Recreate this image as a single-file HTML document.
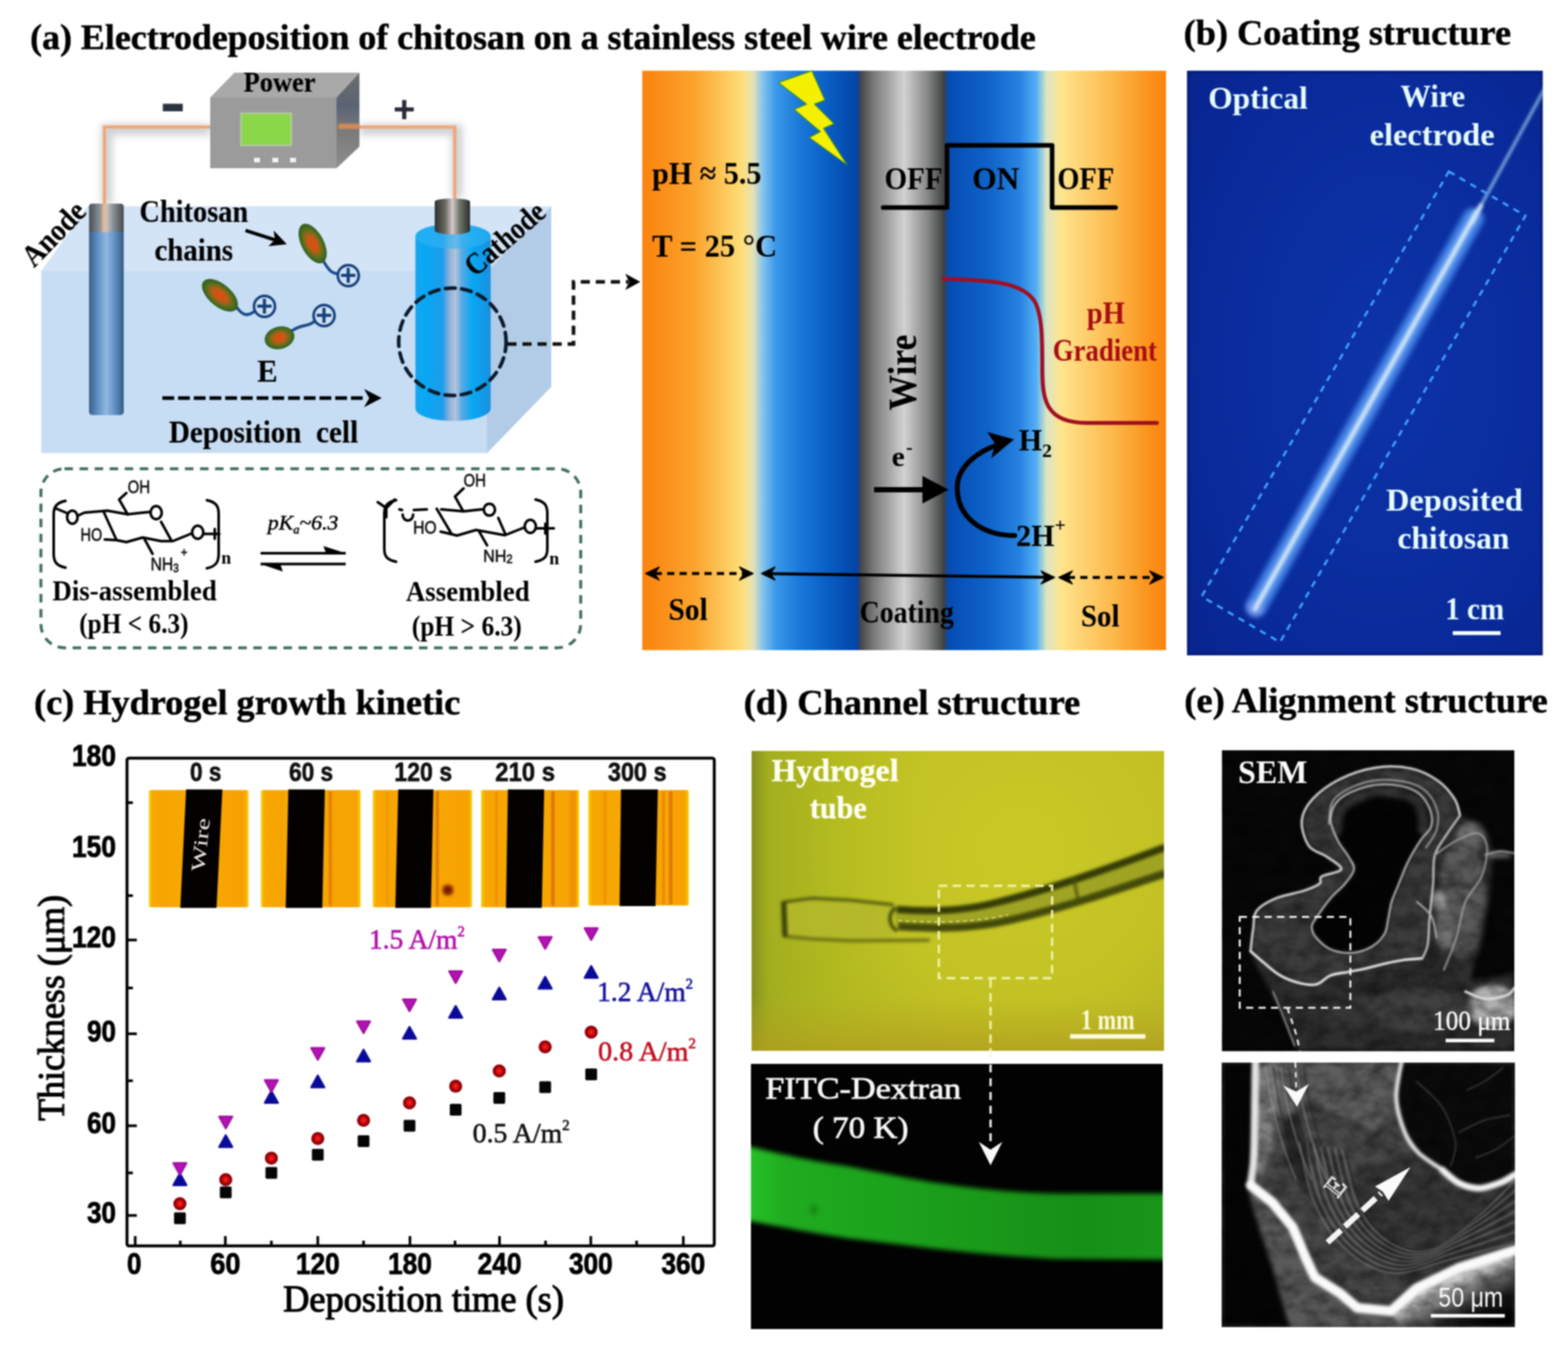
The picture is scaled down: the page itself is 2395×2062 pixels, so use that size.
<!DOCTYPE html>
<html lang="en"><head><meta charset="utf-8"><title>Electrodeposition of chitosan on a stainless steel wire electrode</title>
<style>
html,body{margin:0;padding:0;background:#fff;}
body{width:2395px;height:2062px;}
svg{display:block;width:2395px;height:2062px;}
text{font-family:"Liberation Serif",serif;font-weight:bold;}
.sans{font-family:"Liberation Sans",sans-serif;font-weight:bold;}
</style></head><body>
<svg width="2395" height="2062" viewBox="0 0 2395 2062">
<defs><filter id="soft" color-interpolation-filters="sRGB" filterUnits="userSpaceOnUse" x="0" y="0" width="2395" height="2062"><feGaussianBlur stdDeviation="0.8"/></filter></defs>
<rect x="0" y="0" width="2395" height="2062" fill="#fff"/>
<g filter="url(#soft)">
<!-- 00_defs.svg -->
<defs>
  <filter id="b1" color-interpolation-filters="sRGB" x="-5%" y="-5%" width="110%" height="110%"><feGaussianBlur stdDeviation="1"/></filter>
  <filter id="b2" color-interpolation-filters="sRGB" x="-10%" y="-10%" width="120%" height="120%"><feGaussianBlur stdDeviation="2"/></filter>
  <filter id="b3" color-interpolation-filters="sRGB" x="-10%" y="-10%" width="120%" height="120%"><feGaussianBlur stdDeviation="3.5"/></filter>
  <filter id="b6" color-interpolation-filters="sRGB" x="-20%" y="-20%" width="140%" height="140%"><feGaussianBlur stdDeviation="6"/></filter>
  <filter id="b10" color-interpolation-filters="sRGB" x="-30%" y="-30%" width="160%" height="160%"><feGaussianBlur stdDeviation="10"/></filter>
  <filter id="b20" color-interpolation-filters="sRGB" x="-40%" y="-40%" width="180%" height="180%"><feGaussianBlur stdDeviation="20"/></filter>
  <marker id="arrK" viewBox="0 0 10 10" refX="8" refY="5" markerWidth="5" markerHeight="5" orient="auto-start-reverse"><path d="M0,0 L10,5 L0,10 L3,5 Z" fill="#000"/></marker>
</defs>

<!-- 10_titles.svg -->
<g font-size="55" fill="#000" stroke="#000" stroke-width="0.7">
  <text x="46" y="75" textLength="1536" lengthAdjust="spacingAndGlyphs">(a) Electrodeposition of chitosan on a stainless steel wire electrode</text>
  <text x="1808" y="68" textLength="500" lengthAdjust="spacingAndGlyphs">(b) Coating structure</text>
  <text x="52" y="1091" textLength="651" lengthAdjust="spacingAndGlyphs">(c) Hydrogel growth kinetic</text>
  <text x="1136" y="1091" textLength="514" lengthAdjust="spacingAndGlyphs">(d) Channel structure</text>
  <text x="1809" y="1088" textLength="555" lengthAdjust="spacingAndGlyphs">(e) Alignment structure</text>
</g>

<!-- 20_panel_a_left.svg -->
<defs>
  <linearGradient id="gAnode" x1="0" y1="0" x2="1" y2="0">
    <stop offset="0" stop-color="#3a5f88"/><stop offset="0.25" stop-color="#5f8fc2"/><stop offset="0.5" stop-color="#8fb8e2"/><stop offset="0.75" stop-color="#5f8fc2"/><stop offset="1" stop-color="#365a82"/>
  </linearGradient>
  <linearGradient id="gAnodeTop" x1="0" y1="0" x2="1" y2="0">
    <stop offset="0" stop-color="#4a4f56"/><stop offset="0.3" stop-color="#8a8f96"/><stop offset="0.5" stop-color="#c8c4c0"/><stop offset="0.7" stop-color="#8a8f96"/><stop offset="1" stop-color="#454a52"/>
  </linearGradient>
  <linearGradient id="gCath" x1="0" y1="0" x2="1" y2="0">
    <stop offset="0" stop-color="#16a4ee"/><stop offset="0.12" stop-color="#08a8f4"/><stop offset="0.36" stop-color="#1c9cec"/><stop offset="0.45" stop-color="#8cb0d8"/><stop offset="0.53" stop-color="#b4c4dc"/><stop offset="0.62" stop-color="#58a8e4"/><stop offset="0.75" stop-color="#08a8f4"/><stop offset="1" stop-color="#1890e0"/>
  </linearGradient>
  <linearGradient id="gStub" x1="0" y1="0" x2="1" y2="0">
    <stop offset="0" stop-color="#2e3030"/><stop offset="0.3" stop-color="#6a6a60"/><stop offset="0.5" stop-color="#d8c8d0"/><stop offset="0.7" stop-color="#707868"/><stop offset="1" stop-color="#2a2c2c"/>
  </linearGradient>
  <linearGradient id="gBoxR" x1="0" y1="0" x2="0" y2="1">
    <stop offset="0" stop-color="#6c6c6c"/><stop offset="0.35" stop-color="#5a6474"/><stop offset="0.6" stop-color="#7a7a7a"/><stop offset="1" stop-color="#8e8e8e"/>
  </linearGradient>
  <radialGradient id="gChain" cx="0.5" cy="0.5" r="0.5">
    <stop offset="0" stop-color="#e04c0c"/><stop offset="0.4" stop-color="#c25a16"/><stop offset="0.72" stop-color="#5a701c"/><stop offset="1" stop-color="#2c5e24"/>
  </radialGradient>
</defs>
<g id="pa1">
  <!-- wire glow + wire -->
  <g filter="url(#b6)" opacity="0.45">
    <polyline points="321,198 163,198 163,312" fill="none" stroke="#8f949c" stroke-width="16"/>
    <polyline points="549,198 698,198 698,303" fill="none" stroke="#8f949c" stroke-width="16"/>
  </g>
  <polyline points="321,194 159.5,194 159.5,330" fill="none" stroke="#f2a676" stroke-width="5"/>
  <polyline points="549,194 694.5,194 694.5,310" fill="none" stroke="#f2a676" stroke-width="5"/>
  <!-- deposition cell -->
  <polygon points="63,414 134,315 842,315 744,414" fill="#d3e4f6"/>
  <polygon points="744,414 842,315 842,591 744,692" fill="#b2cce8"/>
  <rect x="63" y="414" width="681" height="278" fill="#c6ddf3"/>
  <!-- anode -->
  <rect x="136" y="311" width="53" height="323" rx="5" fill="url(#gAnode)"/>
  <path d="M136,354 V316 a5,5 0 0 1 5,-5 H184 a5,5 0 0 1 5,5 V354 Z" fill="url(#gAnodeTop)"/>
  <rect x="156.5" y="311" width="6" height="44" fill="#f0b890" opacity="0.8"/>
  <!-- cathode -->
  <path d="M634.5,361 a57.5,19 0 0 1 115,0 V624 a57.5,19 0 0 1 -115,0 Z" fill="url(#gCath)"/>
  <ellipse cx="692" cy="361" rx="57.5" ry="19" fill="#30b4f4" opacity="0.6"/>
  <path d="M664,308 a27,5 0 0 1 54,0 V352 a27,6 0 0 1 -54,0 Z" fill="url(#gStub)"/>
  <!-- dashed circle and connector -->
  <circle cx="691" cy="522" r="82" fill="none" stroke="#0a1a2a" stroke-width="5.5" stroke-dasharray="15 10" stroke-linecap="round"/>
  <polyline points="775,525.5 876,525.5 876,430.5 960,430.5" fill="none" stroke="#111" stroke-width="5.5" stroke-dasharray="14 9"/>
  <polygon points="978,430.5 955,418 961,430.5 955,443" fill="#000"/>
  <!-- E arrow -->
  <line x1="248" y1="608" x2="560" y2="608" stroke="#000" stroke-width="5.5" stroke-dasharray="18 6"/>
  <polygon points="583,608 556,594 564,608 556,622" fill="#000"/>
  <!-- chitosan chains -->
  <g stroke="#1a4a8a" stroke-width="4.5" fill="none" stroke-linecap="round">
    <path d="M493,397 C503,415 508,418 517,418"/>
    <path d="M362,470 C372,484 380,482 388,476"/>
    <path d="M446,505 C462,494 470,500 480,491"/>
  </g>
  <ellipse cx="477.5" cy="372" rx="33" ry="17" transform="rotate(62 477.5 372)" fill="url(#gChain)"/>
  <ellipse cx="336" cy="451" rx="33" ry="17" transform="rotate(40 336 451)" fill="url(#gChain)"/>
  <ellipse cx="427" cy="516" rx="23" ry="17" transform="rotate(-15 427 516)" fill="url(#gChain)"/>
  <g stroke="#173f7a" stroke-width="4" fill="#cfe2f6">
    <circle cx="532" cy="421" r="16"/>
    <circle cx="404" cy="468" r="16"/>
    <circle cx="495" cy="482" r="16"/>
  </g>
  <g class="sans" font-size="44" fill="#173f7a">
    <text class="sans" x="519.1" y="436.2">+</text>
    <text class="sans" x="391.1" y="483.2">+</text>
    <text class="sans" x="482.1" y="497.2">+</text>
  </g>
  <!-- chitosan arrow -->
  <line x1="375" y1="352" x2="428" y2="369" stroke="#000" stroke-width="5"/>
  <polygon points="438,373 410,376 420,366 418,352" fill="#000"/>
  <!-- power box -->
  <polygon points="321,149 358,111 549,111 514,149" fill="#a9a9a9"/>
  <polygon points="514,149 549,111 549,224 514,257" fill="url(#gBoxR)"/>
  <rect x="321" y="149" width="193" height="108" fill="#9b9b9b"/>
  <rect x="368" y="173" width="77" height="49" fill="#8ad84a" stroke="#b4c8a0" stroke-width="2.5"/>
  <g fill="#f4f4f4"><rect x="388" y="241" width="9" height="7"/><rect x="416" y="241" width="9" height="7"/><rect x="443" y="241" width="9" height="7"/></g>
  <rect x="517" y="189" width="32" height="8" fill="#e89050" opacity="0.8" filter="url(#b1)"/>
  <text class="sans" x="244" y="189" font-size="96" fill="#2a3440" textLength="40" lengthAdjust="spacingAndGlyphs">-</text>
  <text class="sans" x="600.5" y="187" font-size="58" fill="#2a2a3a">+</text>
  <!-- labels -->
  <g fill="#000" stroke="#000" stroke-width="0.2">
    <text x="372" y="140" font-size="44" textLength="110" lengthAdjust="spacingAndGlyphs">Power</text>
    <text x="213" y="339" font-size="49" textLength="166" lengthAdjust="spacingAndGlyphs">Chitosan</text>
    <text x="236" y="398" font-size="49" textLength="120" lengthAdjust="spacingAndGlyphs">chains</text>
    <text x="393" y="583" font-size="49" textLength="31" lengthAdjust="spacingAndGlyphs">E</text>
    <text x="258" y="676" font-size="49" textLength="289" lengthAdjust="spacingAndGlyphs" xml:space="preserve">Deposition  cell</text>
    <text transform="translate(52,410) rotate(-46)" font-size="47" textLength="118" lengthAdjust="spacingAndGlyphs">Anode</text>
    <text transform="translate(726,424) rotate(-41)" font-size="47" textLength="146" lengthAdjust="spacingAndGlyphs">Cathode</text>
  </g>
</g>

<!-- 25_chem.svg -->
<g id="chem">
  <rect x="62.5" y="716" width="824.5" height="273.5" rx="36" ry="36" fill="none" stroke="#3f6f58" stroke-width="4.5" stroke-dasharray="13 10"/>
  <g fill="none" stroke="#000" stroke-width="4" stroke-linecap="round" stroke-linejoin="round">
    <!-- left structure -->
    <path d="M100,765 C86,768 82,774 82,786 V846 C82,858 86,864 100,867"/>
    <path d="M316,764 C330,767 334,773 334,785 V846 C334,858 330,865 316,868"/>
    <path d="M84,776 L103,784 M118,788 L129,783 L164,780 L195,785.5 L218,783 L229,782"/>
    <path d="M195,785.5 L182,763 L193,753"/>
    <path d="M158,781 L178,825 L193,828 L218,821 L246,826.5 L264,826.5 L285,818 L292,815"/>
    <path d="M246,797 L262,826"/>
    <path d="M160,824 L178,825"/>
    <path d="M220,822 L233,846"/>
    <path d="M312,815.5 L335,815.5 M328,808 V823"/>
    <ellipse cx="110.5" cy="790" rx="8" ry="10"/>
    <ellipse cx="238.5" cy="783" rx="8.5" ry="10"/>
    <ellipse cx="302" cy="813" rx="8.5" ry="10"/>
    <!-- right structure -->
    <path d="M605,764 C591,767 587,773 587,785 V838 C587,850 591,855 605,858"/>
    <path d="M818,763 C832,766 836,772 836,784 V838 C836,850 832,855 818,858"/>
    <path d="M577,767 L590,776 L603,763 M590,776 V790"/>
    <path d="M610,778 L614,779 M632,779 L652,778 M674,778 L708,781 L736,778"/>
    <path d="M707,780 L695,758.5 L708,746"/>
    <path d="M667,777 L690,816 L698,818 L727,809.5 L771,817.5 L790,810 L800,806"/>
    <path d="M761,791 L772,816"/>
    <path d="M673,812 L690,816"/>
    <path d="M732,812 L744,833"/>
    <path d="M820,807 L846,807 M833,800 V815"/>
    <path d="M615,786 a8,9 0 0 0 16,0" />
    <ellipse cx="747.5" cy="778.5" rx="8.5" ry="9"/>
    <ellipse cx="810" cy="804" rx="8.5" ry="10"/>
  </g>
  <g class="sans" fill="#111" font-size="28" style="font-weight:normal" stroke="#111" stroke-width="0.8">
    <text class="sans" x="195" y="753" textLength="34" lengthAdjust="spacingAndGlyphs" style="font-weight:normal">OH</text>
    <text class="sans" x="123" y="825.5" textLength="33" lengthAdjust="spacingAndGlyphs" style="font-weight:normal">HO</text>
    <text class="sans" x="230" y="871" textLength="43" lengthAdjust="spacingAndGlyphs" style="font-weight:normal">NH<tspan font-size="18" dy="3">3</tspan></text>
    <text class="sans" x="276" y="850" font-size="18" style="font-weight:normal">+</text>
    <text class="sans" x="708" y="743" textLength="34" lengthAdjust="spacingAndGlyphs" style="font-weight:normal">OH</text>
    <text class="sans" x="631" y="815" textLength="36" lengthAdjust="spacingAndGlyphs" style="font-weight:normal">HO</text>
    <text class="sans" x="738" y="858" font-size="26" textLength="45" lengthAdjust="spacingAndGlyphs" style="font-weight:normal">NH<tspan font-size="18" dy="2">2</tspan></text>
  </g>
  <g fill="#000">
    <text x="338" y="861" font-size="27">n</text>
    <text x="839" y="862" font-size="27">n</text>
    <text x="80" y="916.5" font-size="44" textLength="251" lengthAdjust="spacingAndGlyphs">Dis-assembled</text>
    <text x="121" y="966.5" font-size="44" textLength="167" lengthAdjust="spacingAndGlyphs">(pH &lt; 6.3)</text>
    <text x="620" y="917.5" font-size="44" textLength="189" lengthAdjust="spacingAndGlyphs">Assembled</text>
    <text x="629" y="971" font-size="44" textLength="168" lengthAdjust="spacingAndGlyphs">(pH &gt; 6.3)</text>
    <text x="409" y="809" font-size="32" font-style="italic" style="font-weight:normal" stroke="#000" stroke-width="0.6" textLength="108" lengthAdjust="spacingAndGlyphs">pK<tspan font-size="18" dy="6">a</tspan><tspan dy="-6">~6.3</tspan></text>
  </g>
  <!-- equilibrium arrows -->
  <g stroke="#000" stroke-width="4" fill="#000">
    <line x1="398" y1="845" x2="528" y2="845"/>
    <polygon points="528,845 494,834 498,845" stroke="none"/>
    <line x1="398" y1="861.5" x2="528" y2="861.5"/>
    <polygon points="398,861.5 432,873 428,861.5" stroke="none"/>
  </g>
</g>

<!-- 30_panel_a_right.svg -->
<defs>
  <linearGradient id="gA" gradientUnits="userSpaceOnUse" x1="981" y1="0" x2="1781" y2="0">
    <stop offset="0" stop-color="#fb8410"/>
    <stop offset="0.03" stop-color="#fb8c16"/>
    <stop offset="0.10" stop-color="#fba42e"/>
    <stop offset="0.19" stop-color="#ffde78"/>
    <stop offset="0.212" stop-color="#e4e2b8"/>
    <stop offset="0.232" stop-color="#7cc0f0"/>
    <stop offset="0.255" stop-color="#3c98e8"/>
    <stop offset="0.30" stop-color="#1a78da"/>
    <stop offset="0.37" stop-color="#0656bc"/>
    <stop offset="0.412" stop-color="#0444a6"/>
    <stop offset="0.416" stop-color="#444446"/>
    <stop offset="0.44" stop-color="#767676"/>
    <stop offset="0.50" stop-color="#d2d2d2"/>
    <stop offset="0.545" stop-color="#868686"/>
    <stop offset="0.576" stop-color="#3e4042"/>
    <stop offset="0.584" stop-color="#064cb2"/>
    <stop offset="0.66" stop-color="#0e62c8"/>
    <stop offset="0.72" stop-color="#2682e0"/>
    <stop offset="0.752" stop-color="#52aef4"/>
    <stop offset="0.772" stop-color="#dce6c4"/>
    <stop offset="0.80" stop-color="#ffe48c"/>
    <stop offset="0.90" stop-color="#fdb84a"/>
    <stop offset="0.975" stop-color="#fb8e16"/>
    <stop offset="1" stop-color="#fb8410"/>
  </linearGradient>
</defs>
<g id="pa2">
  <rect x="981" y="108" width="800" height="885" fill="url(#gA)"/>
  <!-- lightning bolt -->
  <polygon points="1240,108 1260,153 1244,159 1274,189 1258,196 1294,252 1236,210 1253,201 1213,167 1232,159 1189,126" fill="#f4f000" stroke="#3a8a30" stroke-width="1.5" stroke-linejoin="round"/>
  <!-- pulse -->
  <polyline points="1349,317 1446.5,317 1446.5,222 1607,222 1607,317 1704,317" fill="none" stroke="#000" stroke-width="7" stroke-linecap="round" stroke-linejoin="round"/>
  <g font-size="49" fill="#000">
    <text x="1351" y="289" textLength="89" lengthAdjust="spacingAndGlyphs">OFF</text>
    <text x="1485" y="289" textLength="72" lengthAdjust="spacingAndGlyphs">ON</text>
    <text x="1615" y="289" textLength="87" lengthAdjust="spacingAndGlyphs">OFF</text>
    <text x="996" y="281" textLength="167" lengthAdjust="spacingAndGlyphs">pH ≈ 5.5</text>
    <text x="996" y="392" textLength="191" lengthAdjust="spacingAndGlyphs">T = 25 °C</text>
    <text x="1021" y="947" textLength="60" lengthAdjust="spacingAndGlyphs">Sol</text>
    <text x="1313" y="951" textLength="144" lengthAdjust="spacingAndGlyphs">Coating</text>
    <text x="1651" y="957" textLength="59" lengthAdjust="spacingAndGlyphs">Sol</text>
    <text x="1556" y="688" font-size="46">H<tspan font-size="30" dy="10">2</tspan></text>
    <text x="1552" y="834" font-size="46">2H<tspan font-size="30" dy="-22">+</tspan></text>
    <text transform="translate(1399,627) rotate(-90)" font-size="62" textLength="116" lengthAdjust="spacingAndGlyphs">Wire</text>
    <text x="1362" y="711.5" font-size="45">e<tspan font-size="30" dx="2" dy="-19">-</tspan></text>
  </g>
  <!-- pH gradient curve -->
  <path d="M1441,426 C1500,428 1560,428 1580,460 C1592,480 1592,520 1592,560 C1592,610 1596,646 1660,646 L1767,646" fill="none" stroke="#a00f22" stroke-width="6" stroke-linecap="round"/>
  <g font-size="48" fill="#a80c14">
    <text x="1660" y="494" textLength="58" lengthAdjust="spacingAndGlyphs">pH</text>
    <text x="1608" y="551" textLength="159" lengthAdjust="spacingAndGlyphs">Gradient</text>
  </g>
  <!-- e- arrow -->
  <line x1="1335" y1="748" x2="1415" y2="748" stroke="#000" stroke-width="8"/>
  <polygon points="1409,727 1449,748 1409,769" fill="#000"/>
  <!-- curved arrow -->
  <path d="M1550,818 C1500,818 1462,790 1462,745 C1462,715 1490,690 1528,678" fill="none" stroke="#000" stroke-width="7.5" stroke-linecap="round"/>
  <polygon points="1549,671 1508,660 1520,678 1514,700" fill="#000"/>
  <!-- double arrows -->
  <g stroke="#000" stroke-width="4.5" fill="none">
    <line x1="1000" y1="876" x2="1137" y2="876" stroke-dasharray="11 8"/>
    <line x1="1177" y1="876.2" x2="1597" y2="881.8"/>
    <line x1="1631" y1="882" x2="1763" y2="882" stroke-dasharray="11 8"/>
  </g>
  <g fill="#000" stroke="#000" stroke-width="1.5" stroke-linejoin="round">
    <polygon points="986.0,876.0 1007.0,866.0 1000.0,876.0 1007.0,886.0"/>
    <polygon points="1150.5,876.0 1129.5,866.0 1136.5,876.0 1129.5,886.0"/>
    <polygon points="1163.0,876.0 1184.0,866.0 1177.0,876.0 1184.0,886.0"/>
    <polygon points="1611.0,882.0 1590.0,872.0 1597.0,882.0 1590.0,892.0"/>
    <polygon points="1617.0,882.0 1638.0,872.0 1631.0,882.0 1638.0,892.0"/>
    <polygon points="1777.0,882.0 1756.0,872.0 1763.0,882.0 1756.0,892.0"/>
  </g>
</g>

<!-- 40_panel_b.svg -->
<defs>
  <radialGradient id="gB" cx="0.55" cy="0.5" r="0.8">
    <stop offset="0" stop-color="#0d34a8"/><stop offset="0.6" stop-color="#0a2b9c"/><stop offset="1" stop-color="#08238c"/>
  </radialGradient>
  <clipPath id="cB"><rect x="1813" y="108" width="543.5" height="893"/></clipPath>
</defs>
<g id="pb" clip-path="url(#cB)">
  <rect x="1813" y="108" width="543.5" height="893" fill="url(#gB)"/>
  <rect x="1815" y="110" width="539.5" height="889" fill="none" stroke="#061c78" stroke-width="5" opacity="0.7"/>
  <!-- coating glow -->
  <g filter="url(#b3)">
    <line x1="2250" y1="334" x2="1919" y2="926" stroke="#3f7fe6" stroke-width="34" stroke-linecap="round" opacity="0.85"/>
    <line x1="2252" y1="330" x2="1918" y2="928" stroke="#6aa4f4" stroke-width="18" stroke-linecap="round" opacity="0.9"/>
    <circle cx="1917" cy="929" r="13" fill="#7a9ef0" opacity="0.8"/>
  </g>
  <g filter="url(#b2)">
    <line x1="2372" y1="112" x2="2262" y2="314" stroke="#8ebfe6" stroke-width="4" stroke-linecap="round"/>
    <line x1="2256" y1="323" x2="1917" y2="930" stroke="#d4e8f6" stroke-width="7" stroke-linecap="round" opacity="0.95"/>
    <line x1="2262" y1="314" x2="2248" y2="340" stroke="#cfe6f4" stroke-width="7" stroke-linecap="round"/>
  </g>
  <polygon points="2213,262 2330,329.5 1955,981 1835.5,911" fill="none" stroke="#3fa2ff" stroke-width="3.5" stroke-dasharray="10 9"/>
  <g fill="#e6fcfc" font-size="48">
    <text x="1845.5" y="166" textLength="152" lengthAdjust="spacingAndGlyphs">Optical</text>
    <text x="2139" y="163" textLength="99" lengthAdjust="spacingAndGlyphs">Wire</text>
    <text x="2092" y="221.5" textLength="191" lengthAdjust="spacingAndGlyphs">electrode</text>
    <text x="2117" y="779.5" textLength="209" lengthAdjust="spacingAndGlyphs">Deposited</text>
    <text x="2134.5" y="838" textLength="171" lengthAdjust="spacingAndGlyphs">chitosan</text>
    <text x="2207.5" y="946" textLength="90" lengthAdjust="spacingAndGlyphs">1 cm</text>
  </g>
  <rect x="2219" y="964" width="73" height="6" fill="#f4ffff"/>
</g>

<!-- 50_panel_c.svg -->
<defs>
  <linearGradient id="gOr" x1="0" y1="0" x2="1" y2="0">
    <stop offset="0" stop-color="#f8d200"/><stop offset="0.04" stop-color="#f7a602"/><stop offset="0.5" stop-color="#f8a800"/><stop offset="0.96" stop-color="#f6a204"/><stop offset="1" stop-color="#f8d200"/>
  </linearGradient>
  <radialGradient id="gRed" cx="0.5" cy="0.5" r="0.5"><stop offset="0" stop-color="#ff2a1a"/><stop offset="0.35" stop-color="#e01010"/><stop offset="0.7" stop-color="#9a0008"/><stop offset="1" stop-color="#7a0008"/></radialGradient>
</defs>
<g id="pc">
<rect x="194" y="1158" width="897" height="745" fill="none" stroke="#000" stroke-width="4.5" rx="3"/>
<path d="M194,1226.0 h9 M194,1368.0 h9 M194,1435.7 h15 M194,1509.0 h9 M194,1579.0 h15 M194,1650.7 h9 M194,1719.5 h15 M194,1791.4 h9 M194,1856.6 h15 M206.5,1903 v-15 M275.4,1903 v-8 M344.2,1903 v-15 M414.5,1903 v-8 M485.4,1903 v-15 M555.3,1903 v-8 M626.2,1903 v-15 M695.0,1903 v-8 M763.0,1903 v-15 M833.3,1903 v-8 M902.4,1903 v-15 M972.4,1903 v-8 M1043.7,1903 v-15 " stroke="#000" stroke-width="4" fill="none"/>
<g class="sans" font-size="47" fill="#000" stroke="#000" stroke-width="1.2" text-anchor="middle">
<text class="sans" x="177.0" y="1169.5" text-anchor="end" textLength="67" lengthAdjust="spacingAndGlyphs">180</text>
<text class="sans" x="177.0" y="1308.5" text-anchor="end" textLength="67" lengthAdjust="spacingAndGlyphs">150</text>
<text class="sans" x="177.0" y="1447.2" text-anchor="end" textLength="67" lengthAdjust="spacingAndGlyphs">120</text>
<text class="sans" x="177.0" y="1590.5" text-anchor="end" textLength="44" lengthAdjust="spacingAndGlyphs">90</text>
<text class="sans" x="177.0" y="1731.0" text-anchor="end" textLength="44" lengthAdjust="spacingAndGlyphs">60</text>
<text class="sans" x="177.0" y="1868.1" text-anchor="end" textLength="44" lengthAdjust="spacingAndGlyphs">30</text>
<text class="sans" x="205.0" y="1946" textLength="22" lengthAdjust="spacingAndGlyphs">0</text>
<text class="sans" x="344.2" y="1946" textLength="46" lengthAdjust="spacingAndGlyphs">60</text>
<text class="sans" x="485.4" y="1946" textLength="67" lengthAdjust="spacingAndGlyphs">120</text>
<text class="sans" x="626.2" y="1946" textLength="67" lengthAdjust="spacingAndGlyphs">180</text>
<text class="sans" x="763.0" y="1946" textLength="67" lengthAdjust="spacingAndGlyphs">240</text>
<text class="sans" x="902.4" y="1946" textLength="67" lengthAdjust="spacingAndGlyphs">300</text>
<text class="sans" x="1043.7" y="1946" textLength="67" lengthAdjust="spacingAndGlyphs">360</text>
</g>
<text x="432.5" y="2003" font-size="56" style="font-weight:normal" stroke="#000" stroke-width="1.6" textLength="429" lengthAdjust="spacingAndGlyphs">Deposition time (s)</text>
<text transform="translate(97.5,1712) rotate(-90)" font-size="56" style="font-weight:normal" stroke="#000" stroke-width="1.6" textLength="345" lengthAdjust="spacingAndGlyphs">Thickness (μm)</text>
<rect x="227.5" y="1206.8" width="152.0" height="178.9" fill="url(#gOr)" rx="2"/>
<polygon points="284.3,1205.8 339.7,1205.8 330.7,1386.7 275.4,1386.7" fill="#030100"/>
<rect x="398.6" y="1206.8" width="152.1" height="178.9" fill="url(#gOr)" rx="2"/>
<rect x="430.0" y="1208.8" width="1.0" height="174.9" fill="#e88a08" opacity="0.85" filter="url(#b1)"/>
<rect x="502.0" y="1208.8" width="5.0" height="174.9" fill="#e07808" opacity="0.85" filter="url(#b1)"/>
<polygon points="440.5,1205.8 496.2,1205.8 492.3,1386.7 436.4,1386.7" fill="#030100"/>
<rect x="569.4" y="1206.8" width="151.6" height="178.9" fill="url(#gOr)" rx="2"/>
<rect x="590.0" y="1208.8" width="3.0" height="174.9" fill="#e89010" opacity="0.85" filter="url(#b1)"/>
<rect x="666.0" y="1208.8" width="4.0" height="174.9" fill="#d86a08" opacity="0.85" filter="url(#b1)"/>
<polygon points="608.3,1205.8 662.0,1205.8 658.2,1386.7 603.8,1386.7" fill="#030100"/>
<rect x="734.8" y="1206.8" width="149.7" height="178.9" fill="url(#gOr)" rx="2"/>
<rect x="757.0" y="1208.8" width="3.0" height="174.9" fill="#e88008" opacity="0.85" filter="url(#b1)"/>
<rect x="842.0" y="1208.8" width="5.0" height="174.9" fill="#d86a08" opacity="0.85" filter="url(#b1)"/>
<rect x="870.0" y="1208.8" width="10.0" height="174.9" fill="#ee9206" opacity="0.85" filter="url(#b1)"/>
<polygon points="775.8,1205.8 831.2,1205.8 827.6,1386.7 772.8,1386.7" fill="#030100"/>
<rect x="898.5" y="1206.8" width="153.5" height="176.2" fill="url(#gOr)" rx="2"/>
<rect x="922.0" y="1208.8" width="4.0" height="172.2" fill="#e88808" opacity="0.85" filter="url(#b1)"/>
<rect x="1022.0" y="1208.8" width="5.0" height="172.2" fill="#d86c08" opacity="0.85" filter="url(#b1)"/>
<rect x="1012.0" y="1208.8" width="3.0" height="172.2" fill="#e07808" opacity="0.85" filter="url(#b1)"/>
<polygon points="948.5,1205.8 1004.8,1205.8 1001.2,1384.0 946.4,1384.0" fill="#030100"/>
<circle cx="684" cy="1359.5" r="7" fill="#3a0800" filter="url(#b2)"/><circle cx="684" cy="1359.5" r="10" fill="#b03000" opacity="0.5" filter="url(#b2)"/>
<text transform="translate(312,1332) rotate(-84)" font-size="30" fill="#f0e8e0" style="font-weight:normal" textLength="82" lengthAdjust="spacingAndGlyphs">Wire</text>
<g class="sans" font-size="40" fill="#111" stroke="#111" stroke-width="0.9">
<text class="sans" x="290.3" y="1193.3" textLength="47.9" lengthAdjust="spacingAndGlyphs" style="font-weight:bold">0 s</text>
<text class="sans" x="441.4" y="1193.3" textLength="67.4" lengthAdjust="spacingAndGlyphs" style="font-weight:bold">60 s</text>
<text class="sans" x="602.3" y="1193.3" textLength="88.3" lengthAdjust="spacingAndGlyphs" style="font-weight:bold">120 s</text>
<text class="sans" x="756.4" y="1193.3" textLength="91.3" lengthAdjust="spacingAndGlyphs" style="font-weight:bold">210 s</text>
<text class="sans" x="928.5" y="1193.3" textLength="89.7" lengthAdjust="spacingAndGlyphs" style="font-weight:bold">300 s</text>
</g>
<rect x="265.8" y="1851.8" width="18" height="18" rx="2" fill="#050505"/>
<rect x="335.8" y="1812.3" width="18" height="18" rx="2" fill="#050505"/>
<rect x="405.5" y="1782.4" width="18" height="18" rx="2" fill="#050505"/>
<rect x="476.4" y="1754.8" width="18" height="18" rx="2" fill="#050505"/>
<rect x="546.3" y="1733.9" width="18" height="18" rx="2" fill="#050505"/>
<rect x="616.5" y="1710.5" width="18" height="18" rx="2" fill="#050505"/>
<rect x="687.0" y="1686.0" width="18" height="18" rx="2" fill="#050505"/>
<rect x="753.6" y="1668.0" width="18" height="18" rx="2" fill="#050505"/>
<rect x="823.7" y="1651.6" width="18" height="18" rx="2" fill="#050505"/>
<rect x="894.0" y="1632.1" width="18" height="18" rx="2" fill="#050505"/>
<circle cx="274.8" cy="1838.6" r="10" fill="url(#gRed)"/>
<circle cx="344.8" cy="1801.8" r="10" fill="url(#gRed)"/>
<circle cx="414.5" cy="1768.9" r="10" fill="url(#gRed)"/>
<circle cx="485.4" cy="1739.0" r="10" fill="url(#gRed)"/>
<circle cx="555.3" cy="1711.2" r="10" fill="url(#gRed)"/>
<circle cx="625.5" cy="1684.5" r="10" fill="url(#gRed)"/>
<circle cx="696.0" cy="1659.1" r="10" fill="url(#gRed)"/>
<circle cx="762.6" cy="1635.8" r="10" fill="url(#gRed)"/>
<circle cx="832.7" cy="1599.0" r="10" fill="url(#gRed)"/>
<circle cx="903.0" cy="1576.5" r="10" fill="url(#gRed)"/>
<polygon points="274.8,1792.3 284.8,1810.3 264.8,1810.3" fill="#0a0a9a" stroke="#0a0a9a" stroke-width="3" stroke-linejoin="round"/>
<polygon points="344.8,1734.0 354.8,1752.0 334.8,1752.0" fill="#0a0a9a" stroke="#0a0a9a" stroke-width="3" stroke-linejoin="round"/>
<polygon points="414.5,1666.6 424.5,1684.6 404.5,1684.6" fill="#0a0a9a" stroke="#0a0a9a" stroke-width="3" stroke-linejoin="round"/>
<polygon points="485.4,1642.7 495.4,1660.7 475.4,1660.7" fill="#0a0a9a" stroke="#0a0a9a" stroke-width="3" stroke-linejoin="round"/>
<polygon points="555.3,1603.2 565.3,1621.2 545.3,1621.2" fill="#0a0a9a" stroke="#0a0a9a" stroke-width="3" stroke-linejoin="round"/>
<polygon points="625.5,1568.5 635.5,1586.5 615.5,1586.5" fill="#0a0a9a" stroke="#0a0a9a" stroke-width="3" stroke-linejoin="round"/>
<polygon points="696.0,1536.5 706.0,1554.5 686.0,1554.5" fill="#0a0a9a" stroke="#0a0a9a" stroke-width="3" stroke-linejoin="round"/>
<polygon points="762.6,1508.5 772.6,1526.5 752.6,1526.5" fill="#0a0a9a" stroke="#0a0a9a" stroke-width="3" stroke-linejoin="round"/>
<polygon points="832.7,1492.0 842.7,1510.0 822.7,1510.0" fill="#0a0a9a" stroke="#0a0a9a" stroke-width="3" stroke-linejoin="round"/>
<polygon points="903.0,1475.5 913.0,1493.5 893.0,1493.5" fill="#0a0a9a" stroke="#0a0a9a" stroke-width="3" stroke-linejoin="round"/>
<polygon points="264.8,1776.4 284.8,1776.4 274.8,1794.4" fill="#b512b5" stroke="#a010a0" stroke-width="3" stroke-linejoin="round"/>
<polygon points="334.8,1705.5 354.8,1705.5 344.8,1723.5" fill="#b512b5" stroke="#a010a0" stroke-width="3" stroke-linejoin="round"/>
<polygon points="404.5,1649.8 424.5,1649.8 414.5,1667.8" fill="#b512b5" stroke="#a010a0" stroke-width="3" stroke-linejoin="round"/>
<polygon points="475.4,1600.7 495.4,1600.7 485.4,1618.7" fill="#b512b5" stroke="#a010a0" stroke-width="3" stroke-linejoin="round"/>
<polygon points="545.3,1560.0 565.3,1560.0 555.3,1578.0" fill="#b512b5" stroke="#a010a0" stroke-width="3" stroke-linejoin="round"/>
<polygon points="615.5,1526.5 635.5,1526.5 625.5,1544.5" fill="#b512b5" stroke="#a010a0" stroke-width="3" stroke-linejoin="round"/>
<polygon points="686.0,1483.5 706.0,1483.5 696.0,1501.5" fill="#b512b5" stroke="#a010a0" stroke-width="3" stroke-linejoin="round"/>
<polygon points="752.6,1450.5 772.6,1450.5 762.6,1468.5" fill="#b512b5" stroke="#a010a0" stroke-width="3" stroke-linejoin="round"/>
<polygon points="822.7,1431.2 842.7,1431.2 832.7,1449.2" fill="#b512b5" stroke="#a010a0" stroke-width="3" stroke-linejoin="round"/>
<polygon points="893.0,1417.7 913.0,1417.7 903.0,1435.7" fill="#b512b5" stroke="#a010a0" stroke-width="3" stroke-linejoin="round"/>
<text x="563.4" y="1449.0" font-size="43" fill="#b010a8" stroke="#b010a8" stroke-width="0.9" style="font-weight:normal" textLength="146.6" lengthAdjust="spacingAndGlyphs">1.5 A/m<tspan font-size="23" dy="-19">2</tspan></text>
<text x="912.0" y="1528.5" font-size="43" fill="#14129a" stroke="#14129a" stroke-width="0.9" style="font-weight:normal" textLength="146.6" lengthAdjust="spacingAndGlyphs">1.2 A/m<tspan font-size="23" dy="-19">2</tspan></text>
<text x="913.5" y="1620.2" font-size="43" fill="#c01020" stroke="#c01020" stroke-width="0.9" style="font-weight:normal" textLength="149.5" lengthAdjust="spacingAndGlyphs">0.8 A/m<tspan font-size="23" dy="-19">2</tspan></text>
<text x="722.0" y="1745.0" font-size="43" fill="#111" stroke="#111" stroke-width="0.9" style="font-weight:normal" textLength="148.0" lengthAdjust="spacingAndGlyphs">0.5 A/m<tspan font-size="23" dy="-19">2</tspan></text>
</g>

<!-- 60_panel_d.svg -->
<defs>
  <radialGradient id="gD" gradientUnits="userSpaceOnUse" cx="1560" cy="1300" r="520">
    <stop offset="0" stop-color="#c9c926"/><stop offset="0.45" stop-color="#c2c224"/><stop offset="0.8" stop-color="#b4b322"/><stop offset="1" stop-color="#9ea022"/>
  </radialGradient>
  <linearGradient id="gDl" gradientUnits="userSpaceOnUse" x1="1148" y1="0" x2="1420" y2="0">
    <stop offset="0" stop-color="#808c1e" stop-opacity="0.9"/><stop offset="0.1" stop-color="#9cac1e" stop-opacity="0.7"/><stop offset="0.5" stop-color="#a8ba1c" stop-opacity="0.45"/><stop offset="1" stop-color="#b4c020" stop-opacity="0"/>
  </linearGradient>
  <linearGradient id="gDb" gradientUnits="userSpaceOnUse" x1="0" y1="1520" x2="0" y2="1606">
    <stop offset="0" stop-color="#b8a820" stop-opacity="0"/><stop offset="1" stop-color="#b09c20" stop-opacity="0.75"/>
  </linearGradient>
  <linearGradient id="gGreen" gradientUnits="userSpaceOnUse" x1="1147" y1="0" x2="1776" y2="0">
    <stop offset="0" stop-color="#28c028"/><stop offset="0.08" stop-color="#1fac1f"/><stop offset="0.45" stop-color="#1a9e1a"/><stop offset="0.8" stop-color="#178f17"/><stop offset="1" stop-color="#199619"/>
  </linearGradient>
  <clipPath id="cD1"><rect x="1148.5" y="1147.5" width="629.5" height="457.5"/></clipPath>
  <clipPath id="cD2"><rect x="1147" y="1625" width="629" height="405"/></clipPath>
</defs>
<g id="pd">
  <g clip-path="url(#cD1)">
    <rect x="1148" y="1147" width="631" height="459" fill="url(#gD)"/>
    <rect x="1148" y="1147" width="272" height="459" fill="url(#gDl)"/>
    <rect x="1148" y="1510" width="631" height="96" fill="url(#gDb)"/>
    <!-- clear left tube -->
    <g filter="url(#b2)">
      <path d="M1196,1378 L1240,1372 L1300,1375 L1363,1382 L1363,1434 L1300,1437 L1240,1434 L1198,1430 Z" fill="#b4b82c" opacity="0.8"/>
      <path d="M1196,1378 L1240,1372 L1300,1375 L1365,1382" fill="none" stroke="#4e560c" stroke-width="4.5"/>
      <path d="M1198,1430 L1240,1434 L1300,1437 L1420,1436" fill="none" stroke="#6a7010" stroke-width="5"/>
      <path d="M1197,1377 L1199,1431" fill="none" stroke="#3a400a" stroke-width="8"/>
      <!-- inner wire tube -->
      <path d="M1366,1388 C1420,1392 1470,1392 1520,1378 C1600,1358 1690,1326 1780,1292 L1780,1338 C1700,1366 1620,1394 1540,1412 C1480,1424 1420,1420 1370,1418 Z" fill="#9ea224" opacity="0.95"/>
      <path d="M1370,1389 C1420,1393 1470,1392 1520,1379 C1600,1360 1690,1328 1780,1294" fill="none" stroke="#353b06" stroke-width="11"/>
      <path d="M1372,1415 C1420,1418 1480,1420 1540,1406 C1620,1388 1700,1361 1780,1334" fill="none" stroke="#434a0a" stroke-width="12"/>
      <path d="M1368,1386 C1356,1396 1356,1412 1370,1422" fill="none" stroke="#3a400a" stroke-width="5"/>
      <path d="M1640,1340 L1646,1372" fill="none" stroke="#4a500c" stroke-width="4"/>
    </g>
    <path d="M1372,1406 C1420,1409 1480,1411 1540,1397" fill="none" stroke="#d8d870" stroke-width="2.5" stroke-dasharray="6 5" opacity="0.8"/>
    <!-- dashed box -->
    <rect x="1434" y="1353" width="173" height="141" fill="none" stroke="#f2f2a8" stroke-width="3.5" stroke-dasharray="13 8"/>
    <line x1="1513" y1="1496" x2="1513" y2="1606" stroke="#f2f2a8" stroke-width="3.5" stroke-dasharray="13 8"/>
    <g fill="#fffff2" font-size="48" stroke="#fffff2" stroke-width="0.5">
      <text x="1178.5" y="1193" textLength="194" lengthAdjust="spacingAndGlyphs">Hydrogel</text>
      <text x="1237" y="1249.5" textLength="87" lengthAdjust="spacingAndGlyphs">tube</text>
      <text x="1651" y="1571.5" font-size="44" fill="#fbfbd8" stroke="none" textLength="82" lengthAdjust="spacingAndGlyphs">1 mm</text>
    </g>
    <rect x="1634.5" y="1579.5" width="115" height="7" fill="#fcfce0"/>
  </g>
  <line x1="1513" y1="1606" x2="1513" y2="1626" stroke="#f4f4c0" stroke-width="3" stroke-dasharray="10 9" opacity="0.7"/>
  <g clip-path="url(#cD2)">
    <rect x="1147" y="1625" width="629" height="405" fill="#020202"/>
    <g filter="url(#b3)">
      <path d="M1140,1750 C1200,1765 1250,1775 1292,1781 C1350,1792 1400,1803 1453,1810 C1510,1818 1560,1822 1615,1823 L1785,1823 L1785,1924 L1615,1923 C1560,1920 1510,1916 1453,1910 C1400,1904 1350,1898 1292,1891 C1240,1883 1200,1875 1140,1864 Z" fill="url(#gGreen)"/>
      <ellipse cx="1243" cy="1848" rx="6" ry="9" fill="#158a15"/>
    </g>
    <line x1="1513" y1="1626" x2="1513" y2="1748" stroke="#f0f0f0" stroke-width="3.5" stroke-dasharray="12 9"/>
    <polygon points="1495,1744 1513,1756 1531,1744 1513,1780" fill="#fafafa"/>
    <g fill="#f6f6f6" font-size="47" style="font-weight:normal" stroke="#f6f6f6" stroke-width="1.1">
      <text x="1169" y="1677.5" textLength="299" lengthAdjust="spacingAndGlyphs" style="font-weight:normal">FITC-Dextran</text>
      <text x="1241.5" y="1737.5" textLength="146" lengthAdjust="spacingAndGlyphs" style="font-weight:normal">( 70 K)</text>
    </g>
  </g>
</g>

<!-- 70_panel_e.svg -->
<defs>
  <clipPath id="cE1"><rect x="1866.5" y="1146" width="446.5" height="459.5"/></clipPath>
  <clipPath id="cE2"><rect x="1866" y="1623" width="448" height="404"/></clipPath>
  <filter id="noiseE" color-interpolation-filters="sRGB" x="0" y="0" width="100%" height="100%">
    <feTurbulence type="fractalNoise" baseFrequency="0.035 0.05" numOctaves="3" seed="7" result="n"/>
    <feColorMatrix in="n" type="matrix" values="0 0 0 0 0  0 0 0 0 0  0 0 0 0 0  1.8 0 0 0 -0.6" result="m"/>
    <feComposite in="m" in2="SourceGraphic" operator="in"/>
  </filter>
  <linearGradient id="gEglow" gradientUnits="userSpaceOnUse" x1="2220" y1="1957" x2="2258" y2="2035">
    <stop offset="0" stop-color="#d0d0d0"/><stop offset="0.3" stop-color="#6a6a6a"/><stop offset="0.6" stop-color="#1c1c1c"/><stop offset="1" stop-color="#000"/>
  </linearGradient>
</defs>
<g id="pe">
<g clip-path="url(#cE1)">
<rect x="1866" y="1146" width="448" height="460" fill="#070707"/>
<g filter="url(#b3)">
<path d="M1910.1,1452.8 L1930.7,1470.7 L1955.4,1489.9 L1982.9,1500.9 L2010.3,1503.6 L2032.3,1489.9 L2059.8,1484.4 L2114.7,1472.0 L2172.4,1463.8 L2183.4,1404.7 L2191.6,1305.8 L2230.1,1245.4 L2263.1,1259.1 L2276.8,1283.8 L2279.6,1322.3 L2274.1,1377.3 L2265.8,1432.2 L2252.1,1473.4 L2246.6,1498.1 L2313.1,1487.1 L2313.1,1605.3 L1982.9,1605.3 L1955.4,1542.1 L1922.4,1481.6 Z" fill="#2e2e2e"/>
<path d="M1910.1,1452.8 L1914.2,1418.5 L1919.7,1391.0 L1949.9,1371.8 L1991.1,1360.8 L2015.8,1349.8 L2018.6,1338.8 L2048.8,1327.8 L2026.8,1308.6 L1999.3,1292.1 L1988.4,1253.6 L2004.8,1220.7 L2046.0,1190.4 L2101.0,1172.6 L2155.9,1174.0 L2197.1,1193.2 L2221.9,1220.7 L2230.1,1245.4 L2230.1,1245.4 L2210.9,1272.9 L2191.6,1305.8 L2188.9,1349.8 L2183.4,1404.7 L2180.7,1443.2 L2172.4,1463.8 L2172.4,1463.8 L2142.2,1466.5 L2114.7,1472.0 L2087.3,1478.9 L2059.8,1484.4 L2032.3,1489.9 L2010.3,1503.6 L1982.9,1500.9 L1955.4,1489.9 L1930.7,1470.7 L1910.1,1452.8 Z" fill="#3c3c3c"/>
<path d="M2032.3,1250.9 C2032.8,1240.3 2036.9,1228.9 2046.0,1220.7 C2055.2,1212.4 2073.5,1205.1 2087.3,1201.4 C2101.0,1197.8 2115.6,1197.3 2128.5,1198.7 C2141.3,1200.1 2155.0,1203.7 2164.2,1209.7 C2173.3,1215.6 2179.7,1225.7 2183.4,1234.4 C2187.1,1243.1 2188.4,1253.6 2186.2,1261.9 C2183.9,1270.1 2175.6,1274.7 2169.7,1283.8 C2163.7,1293.0 2155.9,1305.8 2150.4,1316.8 C2144.9,1327.8 2140.8,1339.7 2136.7,1349.8 C2132.6,1359.9 2128.5,1368.1 2125.7,1377.3 C2123.0,1386.4 2122.1,1396.5 2120.2,1404.7 C2118.4,1413.0 2118.8,1419.8 2114.7,1426.7 C2110.6,1433.6 2103.7,1441.1 2095.5,1445.9 C2087.3,1450.7 2075.8,1454.9 2065.3,1455.5 C2054.7,1456.2 2041.5,1453.9 2032.3,1450.1 C2023.2,1446.2 2015.1,1437.9 2010.3,1432.2 C2005.5,1426.5 2003.5,1420.8 2003.5,1415.7 C2003.5,1410.7 2005.5,1409.3 2010.3,1402.0 C2015.1,1394.7 2025.0,1380.5 2032.3,1371.8 C2039.6,1363.1 2048.3,1357.1 2054.3,1349.8 C2060.2,1342.5 2067.1,1334.7 2068.0,1327.8 C2068.9,1320.9 2063.9,1315.9 2059.8,1308.6 C2055.7,1301.2 2047.9,1293.5 2043.3,1283.8 C2038.7,1274.2 2031.8,1261.4 2032.3,1250.9 Z" fill="#040404"/>
<path d="M2041.9,1267.4 C2043.1,1261.9 2041.2,1243.6 2048.8,1234.4 C2056.3,1225.2 2074.0,1216.5 2087.3,1212.4 C2100.5,1208.3 2116.1,1208.3 2128.5,1209.7 C2140.8,1211.0 2153.9,1214.7 2161.4,1220.7 C2169.0,1226.6 2171.7,1237.6 2173.8,1245.4 C2175.9,1253.2 2173.8,1263.7 2173.8,1267.4" fill="none" stroke="#343434" stroke-width="16" stroke-linecap="round"/>
<ellipse cx="2232.9" cy="1371.8" rx="35.7" ry="90.7" fill="#686868" opacity="0.75"/>
<ellipse cx="2279.6" cy="1536.6" rx="38.5" ry="33.0" fill="#c4c4c4" opacity="0.85"/>
<ellipse cx="2246.6" cy="1278.4" rx="22.0" ry="22.0" fill="#8a8a8a" opacity="0.70"/>
<ellipse cx="2205.4" cy="1418.5" rx="13.7" ry="33.0" fill="#8a8a8a" opacity="0.60"/>
<ellipse cx="2169.7" cy="1542.1" rx="82.4" ry="33.0" fill="#484848" opacity="0.70"/>
<ellipse cx="2087.3" cy="1547.6" rx="68.7" ry="27.5" fill="#3c3c3c" opacity="0.60"/>
<ellipse cx="2290.5" cy="1305.8" rx="19.2" ry="4.9" fill="#909090" opacity="0.80"/>
<ellipse cx="2197.1" cy="1377.3" rx="11.0" ry="16.5" fill="#c0c0c0" opacity="0.60"/>
</g>
<rect x="1866" y="1146" width="448" height="460" fill="#000" opacity="0.45" filter="url(#noiseE)"/>
<g filter="url(#b1)" fill="none" stroke-linecap="round" stroke-linejoin="round">
<path d="M1910.1,1452.8 C1910.7,1447.1 1912.6,1428.8 1914.2,1418.5 C1915.8,1408.2 1913.7,1398.8 1919.7,1391.0 C1925.6,1383.2 1938.0,1376.8 1949.9,1371.8 C1961.8,1366.7 1980.1,1364.4 1991.1,1360.8 C2002.1,1357.1 2011.2,1353.4 2015.8,1349.8 C2020.4,1346.1 2013.1,1342.5 2018.6,1338.8 C2024.1,1335.1 2047.4,1332.8 2048.8,1327.8 C2050.2,1322.8 2035.1,1314.5 2026.8,1308.6 C2018.6,1302.6 2005.8,1301.2 1999.3,1292.1 C1992.9,1282.9 1987.4,1265.5 1988.4,1253.6 C1989.3,1241.7 1995.2,1231.2 2004.8,1220.7 C2014.5,1210.1 2030.0,1198.5 2046.0,1190.4 C2062.1,1182.4 2082.7,1175.3 2101.0,1172.6 C2119.3,1169.8 2139.9,1170.5 2155.9,1174.0 C2172.0,1177.4 2186.2,1185.4 2197.1,1193.2 C2208.1,1201.0 2216.4,1212.0 2221.9,1220.7 C2227.4,1229.4 2228.7,1241.3 2230.1,1245.4" stroke="#e8e8e8" stroke-width="3.2"/>
<path d="M1910.1,1452.8 C1913.5,1455.8 1923.1,1464.5 1930.7,1470.7 C1938.2,1476.8 1946.7,1484.9 1955.4,1489.9 C1964.1,1494.9 1973.7,1498.6 1982.9,1500.9 C1992.0,1503.2 2002.1,1505.5 2010.3,1503.6 C2018.6,1501.8 2024.1,1493.1 2032.3,1489.9 C2040.5,1486.7 2050.6,1486.2 2059.8,1484.4 C2068.9,1482.6 2078.1,1481.0 2087.3,1478.9 C2096.4,1476.8 2105.6,1474.1 2114.7,1472.0 C2123.9,1470.0 2132.6,1467.9 2142.2,1466.5 C2151.8,1465.2 2167.4,1464.2 2172.4,1463.8" stroke="#f4f4f4" stroke-width="3.6"/>
<path d="M2172.4,1463.8 C2173.8,1460.4 2178.8,1453.0 2180.7,1443.2 C2182.5,1433.3 2182.0,1420.3 2183.4,1404.7 C2184.8,1389.2 2187.5,1366.3 2188.9,1349.8 C2190.3,1333.3 2188.0,1318.6 2191.6,1305.8 C2195.3,1293.0 2204.5,1282.9 2210.9,1272.9 C2217.3,1262.8 2226.9,1250.0 2230.1,1245.4" stroke="#d0d0d0" stroke-width="3"/>
<path d="M2032.3,1250.9 C2032.8,1240.3 2036.9,1228.9 2046.0,1220.7 C2055.2,1212.4 2073.5,1205.1 2087.3,1201.4 C2101.0,1197.8 2115.6,1197.3 2128.5,1198.7 C2141.3,1200.1 2155.0,1203.7 2164.2,1209.7 C2173.3,1215.6 2179.7,1225.7 2183.4,1234.4 C2187.1,1243.1 2188.4,1253.6 2186.2,1261.9 C2183.9,1270.1 2175.6,1274.7 2169.7,1283.8 C2163.7,1293.0 2155.9,1305.8 2150.4,1316.8 C2144.9,1327.8 2140.8,1339.7 2136.7,1349.8 C2132.6,1359.9 2128.5,1368.1 2125.7,1377.3 C2123.0,1386.4 2122.1,1396.5 2120.2,1404.7 C2118.4,1413.0 2118.8,1419.8 2114.7,1426.7 C2110.6,1433.6 2103.7,1441.1 2095.5,1445.9 C2087.3,1450.7 2075.8,1454.9 2065.3,1455.5 C2054.7,1456.2 2041.5,1453.9 2032.3,1450.1 C2023.2,1446.2 2015.1,1437.9 2010.3,1432.2 C2005.5,1426.5 2003.5,1420.8 2003.5,1415.7 C2003.5,1410.7 2005.5,1409.3 2010.3,1402.0 C2015.1,1394.7 2025.0,1380.5 2032.3,1371.8 C2039.6,1363.1 2048.3,1357.1 2054.3,1349.8 C2060.2,1342.5 2067.1,1334.7 2068.0,1327.8 C2068.9,1320.9 2063.9,1315.9 2059.8,1308.6 C2055.7,1301.2 2047.9,1293.5 2043.3,1283.8 C2038.7,1274.2 2031.8,1261.4 2032.3,1250.9 Z" stroke="#c8c8c8" stroke-width="2.6"/>
<path d="M2029.6,1259.1 C2030.9,1252.7 2029.1,1231.2 2037.8,1220.7 C2046.5,1210.1 2066.2,1200.7 2081.8,1195.9 C2097.3,1191.1 2116.1,1190.4 2131.2,1191.8 C2146.3,1193.2 2161.9,1197.1 2172.4,1204.2 C2182.9,1211.3 2190.7,1223.9 2194.4,1234.4 C2198.1,1244.9 2197.1,1257.3 2194.4,1267.4 C2191.6,1277.4 2180.7,1290.3 2177.9,1294.8" stroke="#b0b0b0" stroke-width="2.2"/>
<path d="M2191.6,1305.8 C2197.1,1302.2 2213.6,1289.3 2224.6,1283.8 C2235.6,1278.4 2249.8,1271.0 2257.6,1272.9 C2265.4,1274.7 2270.4,1283.8 2271.3,1294.8 C2272.2,1305.8 2268.6,1325.1 2263.1,1338.8 C2257.6,1352.5 2244.8,1361.7 2238.4,1377.3 C2231.9,1392.8 2230.1,1414.8 2224.6,1432.2 C2219.1,1449.6 2208.6,1473.4 2205.4,1481.6" stroke="#a0a0a0" stroke-width="2.5"/>
<path d="M2164.2,1377.3 C2167.8,1380.9 2181.1,1390.1 2186.2,1399.2 C2191.2,1408.4 2193.0,1426.7 2194.4,1432.2" stroke="#b8b8b8" stroke-width="2.5"/>
<path d="M2238.4,1514.6 C2243.4,1516.4 2258.0,1524.7 2268.6,1525.6 C2279.1,1526.5 2294.1,1522.9 2301.5,1520.1 C2309.0,1517.4 2311.2,1511.0 2313.1,1509.1" stroke="#dcdcdc" stroke-width="4"/>
<path d="M2268.6,1305.8 C2272.2,1304.9 2283.1,1300.8 2290.5,1300.3 C2298.0,1299.9 2309.3,1302.6 2313.1,1303.1" stroke="#a0a0a0" stroke-width="2.5"/>
<path d="M1944.4,1514.6 C1946.7,1520.1 1952.6,1533.8 1958.1,1547.6 C1963.6,1561.3 1974.2,1588.8 1977.4,1597.0" stroke="#909090" stroke-width="2.5"/>
</g>
<rect x="1893.6" y="1400.6" width="169.0" height="138.7" fill="none" stroke="#f0f0f0" stroke-width="3" stroke-dasharray="11 8"/>
<path d="M1966.4,1539.3 L1980.1,1580.5 L1985.6,1605.3" fill="none" stroke="#e8e8e8" stroke-width="3" stroke-dasharray="9 8"/>
<text x="1891" y="1196" font-size="50" fill="#fafafa" textLength="106" lengthAdjust="spacingAndGlyphs">SEM</text>
<text x="2189" y="1572.5" font-size="42" fill="#fafafa" style="font-weight:normal" stroke="#fafafa" stroke-width="0.6" textLength="118" lengthAdjust="spacingAndGlyphs">100 μm</text>
<rect x="2208" y="1586.5" width="74.5" height="5.5" fill="#fafafa"/>
</g>
<g clip-path="url(#cE2)">
<rect x="1866" y="1623" width="448" height="404" fill="#484848"/>
<g filter="url(#b3)">
<path d="M1912.5,1622.8 L2137.8,1622.8 L2132.6,1677.7 L2098.9,1729.5 L2047.1,1703.6 L1995.4,1677.7 L1956.5,1729.5 L1925.4,1781.3 L1912.5,1781.3 Z" fill="#5e5e5e"/>
<path d="M1917.7,1622.8 L1953.9,1622.8 L1951.3,1677.7 L1943.6,1755.4 L1925.4,1796.8 L1915.1,1781.3 Z" fill="#808080"/>
<path d="M1961.7,1708.8 L1985.0,1698.4 L1995.4,1781.3 L2005.7,1833.0 L1985.0,1812.3 L1964.3,1781.3 Z" fill="#2a2a2a"/>
<path d="M2073.0,1781.3 L2166.3,1765.7 L2228.4,1812.3 L2313.8,1807.1 L2313.8,1905.5 L2228.4,1931.4 L2163.7,1962.5 L2124.8,1957.3 L2073.0,1884.8 Z" fill="#383838"/>
<path d="M1865.9,1622.8 L1913.8,1622.8 L1912.0,1781.3 L1904.7,1807.1 L1917.7,1858.9 L1943.6,1936.6 L1969.5,2026.7 L1865.9,2026.7 Z" fill="#050505"/>
<path d="M1904.7,1807.1 L1943.6,1833.0 L1974.6,1871.9 L1995.4,1923.7 L2005.7,1949.6 L2047.1,1975.5 L2073.0,1998.8 L2124.8,2003.9 L2137.8,2026.7 L1969.5,2026.7 L1943.6,1936.6 L1917.7,1858.9 Z" fill="#5a5a5a"/>
<path d="M2124.8,2003.9 L2163.7,1967.7 L2228.4,1936.6 L2313.8,1910.7 L2313.8,2026.7 L2137.8,2026.7 Z" fill="url(#gEglow)"/>
<path d="M2137.8,1622.8 L2132.6,1677.7 L2145.5,1729.5 L2166.3,1760.5 L2202.5,1786.4 L2228.4,1807.1 L2259.5,1814.9 L2293.1,1804.6 L2313.8,1794.2 L2313.8,1622.8 Z" fill="#0b0b0b"/>
</g>
<rect x="1866" y="1623" width="448" height="404" fill="#000" opacity="0.45" filter="url(#noiseE)"/>
<g filter="url(#b1)" fill="none" stroke-linecap="round">
<path d="M1985.0,1745.0 C1988.5,1759.7 1994.5,1806.3 2005.7,1833.0 C2016.9,1859.8 2032.5,1887.0 2052.3,1905.5 C2072.2,1924.1 2097.6,1941.4 2124.8,1944.4 C2152.0,1947.4 2183.9,1931.4 2215.5,1923.7 C2247.0,1915.9 2297.4,1902.1 2313.8,1897.8" stroke="#8a8a8a" stroke-width="2.2" opacity="0.55"/>
<path d="M1990.4,1746.0 C1993.9,1760.7 2000.3,1807.7 2011.6,1834.2 C2023.0,1860.7 2038.7,1887.2 2058.4,1905.0 C2078.1,1922.9 2103.0,1939.2 2129.7,1941.4 C2156.5,1943.6 2188.2,1926.8 2218.9,1918.3 C2249.6,1909.7 2298.0,1894.6 2313.8,1889.9" stroke="#1c1c1c" stroke-width="2.2" opacity="0.55"/>
<path d="M1995.8,1747.0 C1999.4,1761.7 2006.1,1809.1 2017.5,1835.4 C2029.0,1861.7 2045.0,1887.4 2064.5,1904.6 C2084.0,1921.7 2108.4,1937.1 2134.7,1938.5 C2161.0,1939.9 2192.5,1922.3 2222.3,1912.8 C2252.2,1903.4 2298.6,1887.2 2313.8,1882.0" stroke="#8a8a8a" stroke-width="2.2" opacity="0.55"/>
<path d="M2001.2,1748.0 C2004.9,1762.7 2011.9,1810.6 2023.4,1836.6 C2035.0,1862.6 2051.3,1887.6 2070.6,1904.1 C2090.0,1920.6 2113.7,1935.0 2139.6,1935.5 C2165.4,1936.1 2196.7,1917.7 2225.8,1907.4 C2254.8,1897.2 2299.2,1879.7 2313.8,1874.2" stroke="#1c1c1c" stroke-width="2.2" opacity="0.55"/>
<path d="M2006.6,1748.9 C2010.4,1763.7 2017.7,1812.0 2029.3,1837.8 C2041.0,1863.5 2057.5,1887.8 2076.7,1903.6 C2095.9,1919.4 2119.1,1932.8 2144.5,1932.6 C2169.9,1932.3 2201.0,1913.1 2229.2,1902.0 C2257.5,1891.0 2299.7,1872.2 2313.8,1866.3" stroke="#8a8a8a" stroke-width="2.2" opacity="0.55"/>
<path d="M2012.1,1749.9 C2015.9,1764.8 2023.4,1813.4 2035.2,1838.9 C2047.0,1864.5 2063.8,1888.0 2082.8,1903.1 C2101.9,1918.2 2124.5,1930.7 2149.4,1929.6 C2174.4,1928.5 2205.3,1908.5 2232.7,1896.6 C2260.1,1884.7 2300.3,1864.8 2313.8,1858.4" stroke="#1c1c1c" stroke-width="2.2" opacity="0.55"/>
<path d="M2017.5,1750.9 C2021.4,1765.8 2029.2,1814.8 2041.1,1840.1 C2053.0,1865.4 2070.1,1888.2 2088.9,1902.6 C2107.8,1917.0 2129.8,1928.6 2154.3,1926.7 C2178.9,1924.8 2209.5,1903.9 2236.1,1891.2 C2262.7,1878.5 2300.9,1857.3 2313.8,1850.5" stroke="#8a8a8a" stroke-width="2.2" opacity="0.55"/>
<path d="M2022.9,1751.9 C2026.9,1766.8 2035.0,1816.3 2047.0,1841.3 C2059.1,1866.3 2076.3,1888.4 2095.0,1902.1 C2113.7,1915.8 2135.2,1926.4 2159.3,1923.7 C2183.4,1921.0 2213.8,1899.3 2239.6,1885.8 C2265.3,1872.3 2301.5,1849.9 2313.8,1842.7" stroke="#1c1c1c" stroke-width="2.2" opacity="0.55"/>
<path d="M2028.3,1752.9 C2032.4,1767.8 2040.8,1817.7 2052.9,1842.5 C2065.1,1867.3 2082.6,1888.6 2101.1,1901.6 C2119.7,1914.7 2140.5,1924.3 2164.2,1920.8 C2187.8,1917.2 2218.1,1894.7 2243.0,1880.4 C2267.9,1866.0 2302.0,1842.4 2313.8,1834.8" stroke="#8a8a8a" stroke-width="2.2" opacity="0.55"/>
<path d="M2033.7,1753.9 C2037.9,1768.8 2046.6,1819.1 2058.9,1843.7 C2071.1,1868.2 2088.9,1888.8 2107.2,1901.1 C2125.6,1913.5 2145.9,1922.2 2169.1,1917.8 C2192.3,1913.5 2222.3,1890.1 2246.4,1875.0 C2270.6,1859.8 2302.6,1834.9 2313.8,1826.9" stroke="#1c1c1c" stroke-width="2.2" opacity="0.55"/>
<path d="M2039.1,1754.8 C2043.4,1769.8 2052.4,1820.6 2064.8,1844.8 C2077.1,1869.1 2095.1,1889.0 2113.3,1900.6 C2131.5,1912.3 2151.3,1920.0 2174.0,1914.9 C2196.8,1909.7 2226.6,1885.5 2249.9,1869.5 C2273.2,1853.6 2303.2,1827.5 2313.8,1819.1" stroke="#8a8a8a" stroke-width="2.2" opacity="0.55"/>
<path d="M2044.5,1755.8 C2048.9,1770.9 2058.2,1822.0 2070.7,1846.0 C2083.1,1870.1 2101.4,1889.1 2119.4,1900.1 C2137.5,1911.1 2156.6,1917.9 2178.9,1911.9 C2201.3,1905.9 2230.9,1880.9 2253.3,1864.1 C2275.8,1847.4 2303.8,1820.0 2313.8,1811.2" stroke="#1c1c1c" stroke-width="2.2" opacity="0.55"/>
<path d="M2049.9,1756.8 C2054.4,1771.9 2064.0,1823.4 2076.6,1847.2 C2089.2,1871.0 2107.6,1889.3 2125.5,1899.6 C2143.4,1909.9 2162.0,1915.8 2183.9,1909.0 C2205.7,1902.1 2235.1,1876.3 2256.8,1858.7 C2278.4,1841.1 2304.3,1812.5 2313.8,1803.3" stroke="#8a8a8a" stroke-width="2.2" opacity="0.55"/>
<path d="M2055.4,1757.8 C2059.9,1772.9 2069.8,1824.8 2082.5,1848.4 C2095.2,1871.9 2113.9,1889.5 2131.6,1899.1 C2149.4,1908.7 2167.4,1913.6 2188.8,1906.0 C2210.2,1898.4 2239.4,1871.7 2260.2,1853.3 C2281.1,1834.9 2304.9,1805.1 2313.8,1795.4" stroke="#1c1c1c" stroke-width="2.2" opacity="0.55"/>
<path d="M1933.2,1631.1 C1934.9,1641.0 1938.8,1669.9 1943.6,1690.6 C1948.3,1711.3 1955.7,1736.8 1961.7,1755.4 C1967.7,1773.9 1976.8,1794.2 1979.8,1802.0" stroke="#9a9a9a" stroke-width="2.5" opacity="0.5"/>
<path d="M1944.9,1631.1 C1946.6,1641.0 1950.5,1669.9 1955.2,1690.6 C1960.0,1711.3 1967.3,1736.8 1973.4,1755.4 C1979.4,1773.9 1988.5,1794.2 1991.5,1802.0" stroke="#202020" stroke-width="2.5" opacity="0.5"/>
<path d="M1956.5,1631.1 C1958.2,1641.0 1962.1,1669.9 1966.9,1690.6 C1971.6,1711.3 1979.0,1736.8 1985.0,1755.4 C1991.0,1773.9 2000.1,1794.2 2003.1,1802.0" stroke="#9a9a9a" stroke-width="2.5" opacity="0.5"/>
<path d="M1968.2,1631.1 C1969.9,1641.0 1973.8,1669.9 1978.5,1690.6 C1983.3,1711.3 1990.6,1736.8 1996.7,1755.4 C2002.7,1773.9 2011.8,1794.2 2014.8,1802.0" stroke="#202020" stroke-width="2.5" opacity="0.5"/>
<path d="M1979.8,1631.1 C1981.6,1641.0 1985.4,1669.9 1990.2,1690.6 C1994.9,1711.3 2002.3,1736.8 2008.3,1755.4 C2014.3,1773.9 2023.4,1794.2 2026.4,1802.0" stroke="#9a9a9a" stroke-width="2.5" opacity="0.5"/>
<path d="M1991.5,1631.1 C1993.2,1641.0 1997.1,1669.9 2001.8,1690.6 C2006.6,1711.3 2013.9,1736.8 2020.0,1755.4 C2026.0,1773.9 2035.1,1794.2 2038.1,1802.0" stroke="#202020" stroke-width="2.5" opacity="0.5"/>
<path d="M2163.7,1651.8 C2170.1,1658.3 2192.6,1675.1 2202.5,1690.6 C2212.4,1706.2 2221.1,1729.9 2223.2,1745.0 C2225.4,1760.1 2216.7,1775.2 2215.5,1781.3" stroke="#3a3a3a" stroke-width="2.5" opacity="0.9"/>
<path d="M2241.3,1664.7 C2245.7,1662.6 2258.2,1657.4 2267.2,1651.8 C2276.3,1646.2 2291.0,1634.5 2295.7,1631.1" stroke="#3a3a3a" stroke-width="2.5" opacity="0.9"/>
<path d="M2228.4,1729.5 C2234.9,1726.4 2254.3,1715.7 2267.2,1711.3 C2280.2,1707.0 2299.6,1704.9 2306.1,1703.6" stroke="#3a3a3a" stroke-width="2.5" opacity="0.9"/>
<path d="M2254.3,1768.3 C2259.5,1766.1 2275.4,1761.0 2285.4,1755.4 C2295.3,1749.7 2309.1,1738.1 2313.8,1734.6" stroke="#3a3a3a" stroke-width="2.5" opacity="0.9"/>
</g>
<g filter="url(#b2)" fill="none" stroke-linecap="round" stroke-linejoin="round">
<path d="M1917.7,1622.8 C1917.5,1636.3 1917.1,1679.3 1916.6,1703.6 C1916.2,1727.8 1916.1,1750.8 1915.1,1768.3 C1914.1,1785.8 1911.2,1801.8 1910.4,1808.4" stroke="#e4e4e4" stroke-width="11"/>
<path d="M1910.4,1810.3 L1943.6,1836.9 L1974.6,1874.5 L1995.4,1923.7 L2008.3,1950.9 L2047.1,1975.5 L2073.0,1997.5 L2124.8,2002.6 L2163.7,1967.7 L2228.4,1936.6 L2313.8,1909.4" stroke="#fafafa" stroke-width="15"/>
<path d="M2140.4,1622.8 C2139.1,1631.9 2131.7,1659.9 2132.6,1677.7 C2133.5,1695.5 2139.9,1715.7 2145.5,1729.5 C2151.2,1743.3 2156.8,1751.0 2166.3,1760.5 C2175.8,1770.0 2196.5,1782.1 2202.5,1786.4" stroke="#f4f4f4" stroke-width="6"/>
<path d="M2202.5,1786.4 C2206.8,1789.9 2218.9,1802.4 2228.4,1807.1 C2237.9,1811.9 2248.7,1815.1 2259.5,1814.9 C2270.3,1814.7 2284.1,1809.3 2293.1,1805.9 C2302.2,1802.4 2310.4,1796.1 2313.8,1794.2" stroke="#f4f4f4" stroke-width="10"/>
</g>
<polygon points="1960.4,1658.3 1979.8,1667.3 1999.2,1655.7 1981.1,1690.6" fill="#fafafa"/>
<line x1="1978.5" y1="1622.8" x2="1979.8" y2="1662.1" stroke="#e0e0e0" stroke-width="3" stroke-dasharray="8 7"/>
<line x1="2027.7" y1="1897.8" x2="2109.3" y2="1822.7" stroke="#f4f4f4" stroke-width="9" stroke-dasharray="28 8"/>
<polygon points="2154.6,1782.5 2120.9,1834.3 2111.9,1820.1 2100.2,1812.3" fill="#fafafa"/>
<text transform="translate(2042.8,1831.0) rotate(-52)" font-size="42" fill="none" stroke="#f0f0f0" stroke-width="1.6" style="font-weight:normal">E</text>
<text x="2197" y="1996" font-size="42" fill="#fafafa" class="sans" style="font-weight:normal" textLength="99" lengthAdjust="spacingAndGlyphs">50 μm</text>
<rect x="2185.5" y="2007" width="113" height="5.5" fill="#fafafa"/>
</g>
</g>

</g>
</svg>
</body></html>
